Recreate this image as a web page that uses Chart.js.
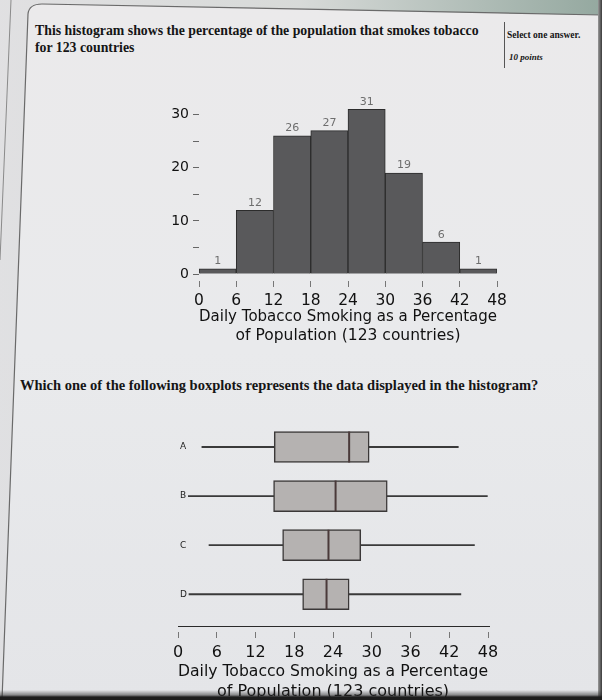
<!DOCTYPE html>
<html>
<head>
<meta charset="utf-8">
<script src="https://cdn.jsdelivr.net/npm/chart.js@4.4.1/dist/chart.umd.min.js"></script>
<style>
  html, body { margin: 0; padding: 0; }
  body { width: 602px; height: 700px; position: relative; overflow: hidden;
         background: linear-gradient(180deg, #ebeaeb 0%, #e9eaec 50%, #e4e5e8 100%); }
  .abs { position: absolute; }
  .serif { font-family: "Liberation Serif", "DejaVu Serif", serif; color: #151515; }
  #title { left: 35px; top: 22px; font-size: 13.8px; line-height: 17px; font-weight: bold; white-space: nowrap; }
  #select { left: 507px; top: 30px; font-size: 9.5px; font-weight: bold; white-space: nowrap; }
  #points { left: 509px; top: 52px; font-size: 9px; font-style: italic; font-weight: bold; white-space: nowrap; }
  #divider { left: 504px; top: 22px; width: 1px; height: 46px; background: #555; }
  #question { left: 20px; top: 376px; font-size: 14.5px; line-height: 18px; font-weight: bold; white-space: nowrap; }
  #histCanvas { left: 140px; top: 90px; }
  #boxCanvas { left: 130px; top: 405px; }
  #bottomBand { left: 0; top: 690px; width: 602px; height: 10px;
                background: linear-gradient(180deg, rgba(40,40,40,0) 0%, rgba(40,40,40,0.5) 50%, #1c1c1c 70%); }
  #rightBand { left: 598px; top: 0; width: 4px; height: 700px; background: linear-gradient(90deg, #9a9a9a, #3a3a3a); }
</style>
</head>
<body>
<svg class="abs" style="left:0;top:0" width="602" height="700">
  <defs>
    <linearGradient id="topGrad" x1="0" x2="1" y1="0" y2="0">
      <stop offset="0" stop-color="#dcdcde"/>
      <stop offset="0.5" stop-color="#cfd3d0"/>
      <stop offset="1" stop-color="#6f8c7f"/>
    </linearGradient>
  </defs>
  <path d="M0 0 L602 0 L602 15 L42 4 Q29 4 28 14 L2 700 L0 700 Z" fill="url(#topGrad)" opacity="0.7"/>
  <path d="M602 15 L42 4 Q29 4 28 14 L2 700" fill="none" stroke="#6a6a6a" stroke-width="1.2"/>
  <path d="M11 0 L0 260" fill="none" stroke="#8a8a8a" stroke-width="1"/>
</svg>

<div id="title" class="abs serif">This histogram shows the percentage of the population that smokes tobacco<br>for 123 countries</div>
<div id="divider" class="abs"></div>
<div id="select" class="abs serif">Select one answer.</div>
<div id="points" class="abs serif">10 points</div>

<canvas id="histCanvas" class="abs" width="380" height="260"></canvas>

<div id="question" class="abs serif">Which one of the following boxplots represents the data displayed in the histogram?</div>

<canvas id="boxCanvas" class="abs" width="390" height="297"></canvas>

<div id="rightBand" class="abs"></div>
<div id="bottomBand" class="abs"></div>

<script>
// histogram bins (percent of population) and country counts
const binEdges = [0, 6, 12, 18, 24, 30, 36, 42, 48];
const binCounts = [1, 12, 26, 27, 31, 19, 6, 1];
const countTicks = [0, 5, 10, 15, 20, 25, 30];

// boxplot options A-D
const boxLabels = ['A', 'B', 'C', 'D'];
const boxMins = [3.7, 1.6, 4.8, 1.7];
const boxQ1 = [14.9, 14.8, 16.2, 19.3];
const boxMedians = [26.5, 24.4, 23.3, 23.0];
const boxQ3 = [29.6, 32.4, 28.3, 26.5];
const boxMaxs = [43.4, 47.9, 45.9, 43.8];

const axisTitle = ['Daily Tobacco Smoking as a Percentage', 'of Population (123 countries)'];

Chart.defaults.font.family = '"DejaVu Sans", sans-serif';
Chart.defaults.color = '#111';

// draws the count above each histogram bar
const barValueLabels = {
    id: 'barValueLabels',
    afterDatasetsDraw(chart) {
        const ctx = chart.ctx;
        const meta = chart.getDatasetMeta(0);
        ctx.save();
        ctx.font = '11px "DejaVu Sans"';
        ctx.fillStyle = '#6e6e6e';
        ctx.textAlign = 'center';
        ctx.textBaseline = 'bottom';
        meta.data.forEach((bar, i) => ctx.fillText(binCounts[i], bar.x, bar.y - 2));
        ctx.restore();
    }
};

// axis line of the boxplot panel, a little above the tick marks
const boxAxisLine = {
    id: 'boxAxisLine',
    afterDraw(chart) {
        const { ctx, chartArea, scales } = chart;
        const y = chartArea.bottom - 5.5;
        ctx.save();
        ctx.strokeStyle = '#2a2a2a';
        ctx.lineWidth = 1;
        ctx.beginPath();
        ctx.moveTo(scales.x.getPixelForValue(0), y);
        ctx.lineTo(scales.x.getPixelForValue(48) + 2, y);
        ctx.stroke();
        ctx.restore();
    }
};

// Histogram
new Chart(document.getElementById('histCanvas'), {
    type: 'bar',
    data: {
        datasets: [{
            data: binCounts.map((c, i) => ({ x: (binEdges[i] + binEdges[i + 1]) / 2, y: c })),
            backgroundColor: '#59595b',
            borderColor: '#2c2c2c',
            borderWidth: 1,
            categoryPercentage: 1,
            barPercentage: 1
        }]
    },
    options: {
        responsive: false,
        animation: false,
        layout: { padding: { top: 14, right: 23, left: 0, bottom: 0 } },
        plugins: { legend: { display: false }, tooltip: { enabled: false } },
        scales: {
            x: {
                type: 'linear',
                min: 0,
                max: 48,
                offset: false,
                afterFit: (scale) => { scale.height = 69; },
                afterBuildTicks: (scale) => {
                    scale.ticks = binEdges.map(v => ({ value: v }));
                },
                grid: { offset: false, drawOnChartArea: false, drawTicks: true, tickLength: 6, tickColor: '#777' },
                border: { display: false },
                ticks: { padding: 5, font: { size: 15.5 }, color: '#111', maxRotation: 0 },
                title: { display: true, text: axisTitle, font: { size: 15.5, lineHeight: 1.2 }, color: '#111', padding: { top: 0, bottom: 5 } }
            },
            y: {
                min: -1.3,
                max: 32,
                afterFit: (scale) => { scale.width = 59; },
                afterBuildTicks: (scale) => {
                    scale.ticks = countTicks.map(v => ({ value: v }));
                },
                grid: { drawOnChartArea: false, drawTicks: true, tickLength: 6, tickColor: '#666' },
                border: { display: false },
                ticks: {
                    padding: 4,
                    font: { size: 14 },
                    color: '#111',
                    callback: (v) => (v % 10 === 0 ? v : '')
                }
            }
        }
    },
    plugins: [barValueLabels]
});

// Boxplots: whisker line, box and median per option
new Chart(document.getElementById('boxCanvas'), {
    type: 'bar',
    data: {
        datasets: [
            {
                label: 'whisker',
                data: boxLabels.map((l, i) => ({ x: [boxMins[i], boxMaxs[i]], y: i + 1 })),
                backgroundColor: '#3a3a3a',
                barThickness: 1.2,
                grouped: false,
                order: 3
            },
            {
                label: 'box',
                data: boxLabels.map((l, i) => ({ x: [boxQ1[i], boxQ3[i]], y: i + 1 })),
                backgroundColor: '#b5b2b1',
                borderColor: '#3b3838',
                borderWidth: 1.5,
                borderSkipped: false,
                barThickness: 31,
                grouped: false,
                order: 2
            },
            {
                type: 'scatter',
                label: 'median',
                data: boxLabels.map((l, i) => ({ x: boxMedians[i], y: i + 1 })),
                pointStyle: 'line',
                pointRotation: 90,
                pointRadius: 15.5,
                pointBorderWidth: 2,
                pointBorderColor: '#4a3a3a',
                order: 1
            }
        ]
    },
    options: {
        indexAxis: 'y',
        responsive: false,
        animation: false,
        layout: { padding: { top: 16, right: 32, left: 48, bottom: 0 } },
        plugins: { legend: { display: false }, tooltip: { enabled: false } },
        scales: {
            x: {
                type: 'linear',
                min: 0,
                max: 48,
                afterFit: (scale) => { scale.height = 70; },
                afterBuildTicks: (scale) => {
                    scale.ticks = binEdges.map(v => ({ value: v }));
                },
                grid: { drawOnChartArea: false, drawTicks: true, tickLength: 6, tickColor: '#777' },
                border: { display: false },
                ticks: { padding: 5, font: { size: 16 }, color: '#111', maxRotation: 0 },
                title: { display: true, text: axisTitle, font: { size: 16, lineHeight: 1.25 }, color: '#111', padding: { top: 0, bottom: 0 } }
            },
            y: {
                type: 'linear',
                reverse: true,
                min: 0.5,
                max: 4.77,
                offset: false,
                afterFit: (scale) => { scale.width = 0; },
                afterBuildTicks: (scale) => {
                    scale.ticks = boxLabels.map((l, i) => ({ value: i + 1 }));
                },
                grid: { display: false },
                border: { display: false },
                ticks: {
                    mirror: true,
                    padding: 2,
                    font: { size: 9 },
                    color: '#222',
                    callback: (v) => boxLabels[v - 1]
                }
            }
        }
    },
    plugins: [boxAxisLine]
});
</script>
</body>
</html>
